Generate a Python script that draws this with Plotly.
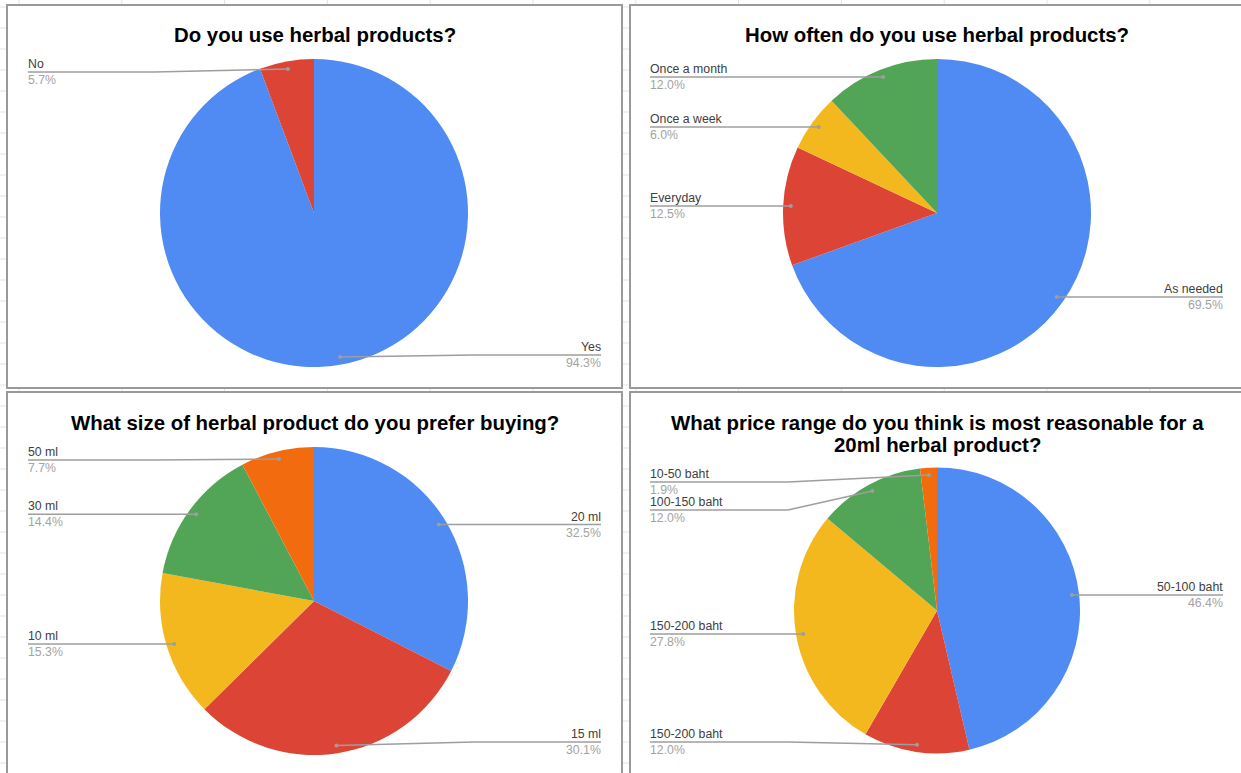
import math
import plotly.graph_objects as go

# ---- survey results (percent of respondents) ----
q1_title = ["Do you use herbal products?"]
q1_labels = ["Yes", "No"]
q1_values = [94.3, 5.7]

q2_title = ["How often do you use herbal products?"]
q2_labels = ["As needed", "Everyday", "Once a week", "Once a month"]
q2_values = [69.5, 12.5, 6.0, 12.0]

q3_title = ["What size of herbal product do you prefer buying?"]
q3_labels = ["20 ml", "15 ml", "10 ml", "30 ml", "50 ml"]
q3_values = [32.5, 30.1, 15.3, 14.4, 7.7]

q4_title = ["What price range do you think is most reasonable for a",
            "20ml herbal product?"]
q4_labels = ["50-100 baht", "150-200 baht", "150-200 baht", "100-150 baht", "10-50 baht"]
q4_values = [46.4, 12.0, 27.8, 12.0, 1.9]

# ---- page geometry (pixels) ----
W, H = 1241, 773
PALETTE = ["#4f8bf3", "#dc4535", "#f4b81f", "#52a556", "#f26b0e"]
FONT = "Arial, Liberation Sans, sans-serif"
NAME_COLOR = "#404040"
PCT_COLOR = "#a3a3a3"
LEADER_COLOR = "#9e9e9e"

panels = [
    dict(box=(7, 5, 622, 388), cx=314, cy=213, r=154, title=q1_title, ty=35,
         labels=q1_labels, values=q1_values, lx=28, rx=601),
    dict(box=(630, 5, 1244, 388), cx=937, cy=213, r=154, title=q2_title, ty=35,
         labels=q2_labels, values=q2_values, lx=650, rx=1223),
    dict(box=(7, 392, 622, 775), cx=314, cy=601, r=154, title=q3_title, ty=423,
         labels=q3_labels, values=q3_values, lx=28, rx=601),
    dict(box=(630, 392, 1244, 775), cx=937, cy=610.5, r=143, title=q4_title, ty=423,
         labels=q4_labels, values=q4_values, lx=650, rx=1223),
]


def px(x):
    return x / W


def py(y):
    return 1 - y / H


fig = go.Figure()
shapes = []
annotations = []

# spreadsheet grid behind the chart panels
row = 7
while row < H:
    shapes.append(dict(type="line", xref="paper", yref="paper", layer="below",
                       x0=0, x1=1, y0=py(row), y1=py(row),
                       line=dict(color="#e3e3e3", width=1)))
    row += 21
col = 19
while col < W:
    shapes.append(dict(type="line", xref="paper", yref="paper", layer="below",
                       x0=px(col), x1=px(col), y0=0, y1=1,
                       line=dict(color="#e3e3e3", width=1)))
    col += 102.8

for p in panels:
    x0, y0, x1, y1 = p["box"]
    shapes.append(dict(type="rect", xref="paper", yref="paper", layer="below",
                       x0=px(x0), x1=px(x1), y0=py(y1), y1=py(y0),
                       fillcolor="white", line=dict(color="#9a9a9a", width=2)))

for p in panels:
    cx, cy, r = p["cx"], p["cy"], p["r"]
    vals = p["values"]
    labs = p["labels"]
    n = len(vals)
    colors = PALETTE[:n]

    fig.add_trace(go.Pie(
        values=vals,
        hovertext=labs,
        hoverinfo="text+percent",
        sort=False,
        direction="clockwise",
        rotation=0,
        textinfo="none",
        marker=dict(colors=colors, line=dict(width=0)),
        domain=dict(x=[px(cx - r), px(cx + r)], y=[py(cy + r), py(cy - r)]),
    ))

    # title (one annotation per line)
    for i, line in enumerate(p["title"]):
        annotations.append(dict(
            xref="paper", yref="paper", x=px((p["box"][0] + p["box"][2]) / 2),
            y=py(p["ty"] + 22 * i), xanchor="center", yanchor="middle",
            text=line, showarrow=False, borderpad=0, borderwidth=0,
            font=dict(family=FONT, size=20.4, color="#000000", weight="bold")))

    # anchor dot for each slice at its mid-angle
    total = sum(vals)
    cum = 0.0
    items = []
    for lab, v in zip(labs, vals):
        theta = math.radians(360.0 * (cum + v / 2) / total)
        cum += v
        dx = cx + 0.95 * r * math.sin(theta)
        dy = cy - 0.95 * r * math.cos(theta)
        items.append(dict(label=lab, value=v, dx=dx, dy=dy,
                          side="right" if dx >= cx else "left"))

    ymin = p["ty"] + 22 * (len(p["title"]) - 1) + 37
    ymax = p["box"][3] - 33
    gap = 28
    for side in ("left", "right"):
        group = sorted([it for it in items if it["side"] == side], key=lambda t: t["dy"])
        prev = None
        for it in group:
            ly = min(max(it["dy"], ymin), ymax)
            if prev is not None:
                ly = max(ly, prev + gap)
            it["ly"] = ly
            prev = ly
        # push back up if the stack overflowed the bottom
        nxt = None
        for it in reversed(group):
            if it["ly"] > ymax:
                it["ly"] = ymax
            if nxt is not None and it["ly"] > nxt - gap:
                it["ly"] = nxt - gap
            nxt = it["ly"]

    for it in items:
        ly = it["ly"]
        if it["side"] == "left":
            tx, anchor = p["lx"], "left"
            bend = cx - r - 6
        else:
            tx, anchor = p["rx"], "right"
            bend = cx + r + 6
        path = "M {},{} L {},{} L {},{}".format(
            px(tx), py(ly), px(bend), py(ly), px(it["dx"]), py(it["dy"]))
        shapes.append(dict(type="path", xref="paper", yref="paper", path=path,
                           line=dict(color=LEADER_COLOR, width=1.5)))
        shapes.append(dict(type="circle", xref="paper", yref="paper",
                           x0=px(it["dx"] - 2), x1=px(it["dx"] + 2),
                           y0=py(it["dy"] + 2), y1=py(it["dy"] - 2),
                           fillcolor=LEADER_COLOR, line=dict(width=0)))
        annotations.append(dict(
            xref="paper", yref="paper", x=px(tx), y=py(ly - 8),
            xanchor=anchor, yanchor="middle", text=it["label"], showarrow=False,
            borderpad=0, borderwidth=0,
            font=dict(family=FONT, size=12.3, color=NAME_COLOR)))
        annotations.append(dict(
            xref="paper", yref="paper", x=px(tx), y=py(ly + 8),
            xanchor=anchor, yanchor="middle", text="{:.1f}%".format(it["value"]),
            showarrow=False, borderpad=0, borderwidth=0,
            font=dict(family=FONT, size=12.3, color=PCT_COLOR)))

fig.update_layout(
    width=W, height=H,
    margin=dict(l=0, r=0, t=0, b=0),
    paper_bgcolor="white",
    plot_bgcolor="white",
    showlegend=False,
    shapes=shapes,
    annotations=annotations,
)

fig.write_html("out.html")
